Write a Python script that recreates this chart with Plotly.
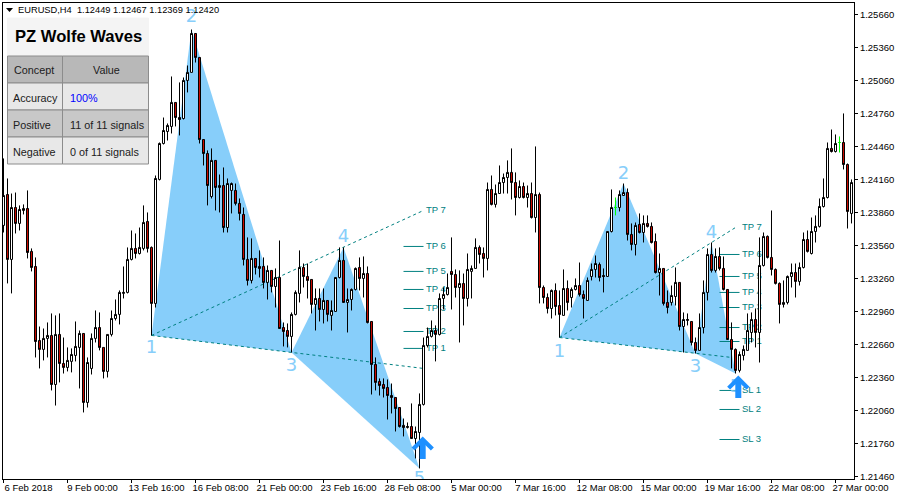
import numpy as np
import plotly.graph_objects as go

# EURUSD H4 candles, prices in points (1 point = 0.00001), ten candles per row
POINT = 0.00001
opens = [
123746,124027,123437,123909,123764,123882,123900,123510,123373,122700,
122619,122719,122746,122300,122755,122491,122455,122510,122564,122637,
122764,122137,122446,122719,122818,122637,122419,122755,122900,122937,
123128,123137,123437,123537,123491,123537,123782,123546,123037,124164,
124491,124600,124646,124864,124727,124718,125064,125137,125491,125273,
124527,124400,124009,124337,124091,124109,123727,124064,124064,123946,
123846,123437,123246,123446,123373,123373,123228,123337,123191,123273,
122818,122791,122737,122937,123128,123364,123282,123255,123028,123082,
122982,123064,122928,122964,123273,123428,123046,123073,123164,123364,
123264,123309,122873,122482,122328,122300,122273,122200,122182,122091,
121928,121909,121918,121809,121864,122119,122655,122737,122791,122755,
123082,123118,123328,123300,123182,123218,123082,123328,123355,123546,
123491,123446,124073,123937,124036,124136,124182,124228,124136,124000,
124100,124000,124036,123818,124027,123182,123091,122991,123155,123018,
122928,123173,123091,123164,123200,123118,123064,123282,123346,123391,
123291,123282,123691,123909,123909,124018,124045,123664,123573,123755,
123682,123764,123737,123600,123318,123355,123046,123046,123100,123228,
122827,122882,122873,122682,122610,122818,123137,123482,123337,123464,
123355,123164,122709,122619,122428,122564,122610,122773,122891,122773,
123382,123646,123455,123346,123219,123028,123046,123282,123318,123237,
123364,123618,123491,123691,123737,123918,124000,124446,124418,124500,
124500,124300,123855]
highs = [
124355,124173,124036,124045,123928,123937,124064,123537,123455,122827,
122809,122864,122946,122928,122946,122727,122637,122628,122873,122791,
122764,122546,122764,122973,122955,122637,122755,122973,123073,123155,
123373,123546,123700,123673,123727,123928,123864,123555,124200,124500,
124727,124673,125100,124864,125046,125091,125200,125527,125491,125273,
124527,124428,124446,124337,124209,124273,124173,124136,124127,123991,
123909,123637,123628,123446,123519,123455,123382,123337,123355,123609,
122864,122855,122955,123155,123519,123400,123400,123255,123173,123173,
123173,123064,123064,123273,123546,123546,123173,123173,123364,123455,
123464,123373,122873,122546,122355,122355,122346,122309,122182,122091,
121991,121955,122128,121918,122219,122727,122818,122882,122837,123128,
123182,123309,123637,123346,123337,123309,123491,123382,123628,123564,
123546,124136,124200,124118,124291,124218,124337,124446,124228,124155,
124136,124109,124136,124464,124045,123200,123128,123164,123219,123155,
123346,123246,123182,123264,123409,123155,123273,123400,123473,123409,
123355,123691,124073,124000,124064,124127,124082,123764,123773,123855,
123837,123837,123773,123673,123491,123355,123155,123200,123364,123228,
122955,122946,122873,122727,122946,123246,123537,123591,123537,123546,
123464,123164,122864,122628,122600,122655,122946,122955,122991,123637,
123682,123655,123882,123355,123228,123246,123291,123400,123400,123409,
123682,123700,123818,123837,123991,124173,124500,124618,124573,124555,
124764,124309,124164]
lows = [
123682,123219,123128,123673,123700,123846,123446,123328,122546,122446,
122519,122546,122246,122109,122319,122400,122419,122410,122510,122264,
122046,122091,122391,122682,122610,122355,122364,122737,122882,122846,
123082,123128,123428,123446,123482,123519,123500,122746,123000,124155,
124482,124518,124582,124646,124564,124709,124955,125137,125227,124491,
124291,123928,123991,123882,123864,123682,123682,123855,123928,123791,
123382,123200,123219,123300,123273,123173,123073,123137,123000,122809,
122646,122637,122591,122928,123046,123182,123082,122946,122791,122873,
122855,122873,122791,122964,123264,123046,122773,122973,123155,123155,
123091,122855,122209,122246,122200,122182,121982,122037,121873,121909,
121828,121900,121809,121628,121537,122109,122637,122727,122510,122746,
122982,123109,122982,123091,122682,122837,123009,123082,123355,123400,
123273,123337,123928,123909,124036,124036,124036,123982,123837,123991,
123991,123909,123809,123682,123037,123037,122946,122900,122928,122727,
122928,122973,123000,123155,123100,122900,123064,123246,123273,123237,
123137,123282,123682,123837,123873,124018,123609,123519,123473,123673,
123591,123727,123582,123309,123109,123018,122946,123018,123018,122791,
122591,122837,122655,122582,122610,122764,123064,123318,123318,123337,
123155,122709,122446,122400,122410,122519,122610,122682,122637,122500,
123373,123446,123291,123209,122855,123000,123028,123182,123091,123200,
123355,123500,123482,123591,123727,123909,123991,124409,124409,124409,
124255,123718,123764]
closes = [
124018,123437,123909,123764,123891,123900,123500,123364,122691,122619,
122719,122746,122300,122755,122491,122455,122519,122573,122646,122764,
122137,122500,122719,122818,122637,122419,122755,122900,122937,123137,
123137,123437,123537,123491,123546,123773,123537,123037,124173,124491,
124609,124655,124864,124727,124709,125064,125137,125491,125273,124527,
124400,124109,124337,124091,124109,123727,124127,124127,123946,123855,
123437,123246,123446,123364,123355,123228,123337,123191,123273,122809,
122782,122737,122937,123137,123364,123282,123246,123028,123082,122982,
123064,122937,122973,123273,123428,123046,123073,123164,123355,123264,
123309,122864,122482,122319,122291,122264,122200,122182,122082,121918,
121909,121918,121809,121873,122119,122655,122737,122791,122755,123082,
123118,123182,123300,123182,123218,123082,123346,123355,123546,123482,
123446,124073,123937,124036,124136,124182,124228,124136,124000,124100,
124000,124036,123818,124027,123182,123091,122991,123155,123009,122937,
123173,123046,123164,123200,123118,123082,123246,123346,123400,123273,
123282,123691,123909,123909,124027,124045,123664,123573,123746,123682,
123764,123737,123591,123318,123355,123037,123000,123109,123228,122827,
122891,122891,122682,122610,122818,123137,123482,123337,123464,123355,
123164,122709,122619,122428,122573,122619,122791,122891,122773,123382,
123646,123455,123346,123219,123028,123046,123282,123318,123237,123364,
123618,123510,123691,123737,123918,124000,124446,124418,124491,124500,
124300,123873,124136]
doji_at = [153,209]

tick_every = 16
x_tick_labels = ["6 Feb 2018","9 Feb 00:00","13 Feb 16:00","16 Feb 08:00","21 Feb 00:00","23 Feb 16:00","28 Feb 08:00","5 Mar 00:00","7 Mar 16:00","12 Mar 08:00","15 Mar 00:00","19 Mar 16:00","22 Mar 08:00","27 Mar 00:00"]
y_tick_values = [1.2146,1.2176,1.2206,1.2236,1.2266,1.2296,1.2326,1.2356,1.2386,1.2416,1.2446,1.2476,1.2506,1.2536,1.2566]

# Wolfe wave pivots: candle index and price in points
wave_a_idx = [37,47,72,85,104]
wave_a_px = [122746,125527,122591,123546,121537]
wave_b_idx = [139,155,173,177,183]
wave_b_px = [122727,124127,122582,123591,122400]
num_x = [37,47,72,85,104,139,155,173,177,183]
num_y = [122624,125640,122467,123640,121440,122595,124212,122458,123676,122276]
num_t = ["1","2","3","4","5","1","2","3","4","5"]

# Target lines
tp_a_names = ["TP 1","TP 2","TP 3","TP 4","TP 5","TP 6"]
tp_a_px = [122628,122782,122991,123164,123328,123555]
tp_a_span = [100,105]
tp_a_label_at = 105.6
tp_b_names = ["TP 1","TP 2","TP 3","TP 4","TP 5","TP 6","SL 1","SL 2","SL 3"]
tp_b_px = [122691,122818,123000,123137,123282,123482,122246,122073,121800]
tp_b_span = [179,184]
tp_b_label_at = 184.6
tp7_a = (105,123882)
tp7_b = (183,123727)
low_end_a = (105,122446)
low_end_b = (182,122546)
arrow_a = (104.8,121828)
arrow_b = (183.7,122382)

table_rows = [("Accuracy","100%"),("Positive","11 of 11 signals"),("Negative","0 of 11 signals")]
header_text = "EURUSD,H4  1.12449 1.12467 1.12369 1.12420"

BLUE = "#87CEFA"; TEAL = "#008080"; ARROW = "#1E90FF"; RED = "#C80A00"
TXT = "Liberation Sans"

o = np.array(opens)*POINT; h = np.array(highs)*POINT; l = np.array(lows)*POINT; c = np.array(closes)*POINT
idx = np.arange(len(opens))
main = np.array([i not in doji_at for i in idx])

fig = go.Figure()

def add_triangles(ix, px):
    p = np.array(px)*POINT
    for tri in ([0,1,2],[2,3,4]):
        fig.add_trace(go.Scatter(x=[ix[k] for k in tri]+[ix[tri[0]]], y=[p[k] for k in tri]+[p[tri[0]]],
                                 mode="lines", fill="toself", fillcolor=BLUE, line=dict(width=0, color=BLUE),
                                 hoverinfo="skip", showlegend=False))
add_triangles(wave_a_idx, wave_a_px)
add_triangles(wave_b_idx, wave_b_px)

def seg(x0,y0,x1,y1,dash):
    fig.add_trace(go.Scatter(x=[x0,x1],y=[y0*POINT,y1*POINT],mode="lines",
                             line=dict(color=TEAL,width=1,dash=dash),hoverinfo="skip",showlegend=False))
for ix,px,end1,end2 in ((wave_a_idx,wave_a_px,low_end_a,tp7_a),(wave_b_idx,wave_b_px,low_end_b,tp7_b)):
    seg(ix[0],px[0],end1[0],end1[1],"3px,3px")
    seg(ix[0],px[0],end2[0],end2[1],"3px,3px")
for names,pxs,span,t7,lab_x in ((tp_a_names,tp_a_px,tp_a_span,tp7_a,tp_a_label_at),(tp_b_names,tp_b_px,tp_b_span,tp7_b,tp_b_label_at)):
    for v in pxs:
        seg(span[0],v,span[1],v,"solid")
    fig.add_trace(go.Scatter(x=[lab_x]*(len(pxs)+1), y=[v*POINT for v in pxs]+[t7[1]*POINT],
                             mode="text", text=names+["TP 7"], textposition="middle right",
                             textfont=dict(family=TXT,size=9.5,color=TEAL),hoverinfo="skip",showlegend=False))

# Wave numbers, clipped by the plot area
num_font = dict(family="DejaVu Sans",size=18,color=BLUE)
fig.add_trace(go.Scatter(x=num_x,y=[v*POINT for v in num_y],mode="text",text=num_t,textposition="middle center",
                         textfont=num_font,hoverinfo="skip",showlegend=False))

fig.add_trace(go.Candlestick(x=idx[main],open=o[main],high=h[main],low=l[main],close=c[main],xaxis="x2",yaxis="y2",
    increasing=dict(fillcolor="#FFFFFF",line=dict(color="#000000",width=1)),
    decreasing=dict(fillcolor=RED,line=dict(color="#000000",width=1)),
    whiskerwidth=0,showlegend=False,hoverinfo="skip"))
fig.add_trace(go.Candlestick(x=doji_at,open=o[doji_at],high=h[doji_at],low=l[doji_at],close=c[doji_at],xaxis="x2",yaxis="y2",
    increasing=dict(fillcolor="#00FF00",line=dict(color="#00FF00",width=1)),
    decreasing=dict(fillcolor="#00FF00",line=dict(color="#00FF00",width=1)),
    whiskerwidth=0,showlegend=False,hoverinfo="skip"))

L,R,T,B = 3,854,3,479
W,H = 900,500
fx = lambda p:(p-L)/(R-L)
fy = lambda p:1-(p-T)/(B-T)

def rect(x0,y0,x1,y1,fill,line="#8C8C8C"):
    return dict(type="rect",xref="paper",yref="paper",x0=fx(x0),x1=fx(x1),y0=fy(y0),y1=fy(y1),
                fillcolor=fill,line=dict(color=line,width=1),layer="above")
shapes = [rect(7.5,18,148.5,56,"#F4F4F4","#F4F4F4")]
for y0,y1,fill in ((56,83,"#B8B8B8"),(83,110,"#E8E8E8"),(110,137,"#C8C8C8"),(137,164,"#E8E8E8")):
    shapes.append(rect(7.5,y0,62.5,y1,fill))
    shapes.append(rect(62.5,y0,148.5,y1,fill))
shapes.append(dict(type="path",xref="paper",yref="paper",layer="above",fillcolor="#000000",line=dict(width=0),
    path=f"M{fx(6)},{fy(8)} L{fx(13)},{fy(8)} L{fx(9.5)},{fy(12)} Z"))

def note(px,py,text,size=11,color="#000000",anchor="left",bold=False,fam=TXT):
    return dict(xref="paper",yref="paper",x=fx(px),y=fy(py),text=f"<b>{text}</b>" if bold else text,showarrow=False,
                xanchor=anchor,yanchor="middle",font=dict(family=fam,size=size,color=color),borderpad=0)
anns = [note(17,10,header_text,9.3),note(78,37,"PZ Wolfe Waves",16.6,anchor="center",bold=True),
        note(33.5,70,"Concept",10.8,"#202020","center"),note(106,70,"Value",10.8,"#202020","center")]
for (a,b),y in zip(table_rows,(98,125,152)):
    anns.append(note(11.5,y,a,10.8,"#202020"))
    anns.append(note(69,y,b,10.8,"#0000FF" if b=="100%" else "#202020"))
for ax_,ay_ in (arrow_a,arrow_b):
    anns.append(dict(x=ax_,y=ay_*POINT,xref="x",yref="y",ax=0,ay=24,axref="pixel",ayref="pixel",text="",showarrow=True,
                     arrowcolor=ARROW,arrowwidth=6,arrowhead=4,arrowsize=0.62,standoff=0))

rng_x = [-0.125,212.625]
rng_y = [1.21441,1.25768]
fig.update_layout(
    width=W,height=H,margin=dict(l=L,r=W-R,t=T,b=H-B,autoexpand=False),
    paper_bgcolor="#FFFFFF",plot_bgcolor="#FFFFFF",showlegend=False,boxgap=0.5,boxgroupgap=0,
    shapes=shapes,annotations=anns,
    xaxis=dict(range=rng_x,showgrid=False,zeroline=False,showline=True,mirror=True,linecolor="#000000",linewidth=1,
               tickmode="array",tickvals=list(range(0,213,tick_every)),ticktext=x_tick_labels,ticks="outside",ticklen=3,tickangle=0,
               tickcolor="#000000",tickfont=dict(family=TXT,size=9.5,color="#000000"),ticklabelshift=25,ticklabelstandoff=-3,
               ticklabeloverflow="allow",rangeslider=dict(visible=False)),
    yaxis=dict(range=rng_y,side="right",showgrid=False,zeroline=False,showline=True,mirror=True,linecolor="#000000",linewidth=1,
               tickmode="array",tickvals=y_tick_values,ticktext=[f"{v:.5f}" for v in y_tick_values],ticks="outside",ticklen=3,
               tickcolor="#000000",tickfont=dict(family=TXT,size=9.5,color="#000000")),
    xaxis2=dict(range=rng_x,overlaying="x",visible=False,rangeslider=dict(visible=False)),
    yaxis2=dict(range=rng_y,overlaying="y",visible=False),
)
fig.write_html("out.html",config=dict(displayModeBar=False),
               post_script="document.documentElement.style.margin='0';document.body.style.margin='0';document.body.style.overflow='hidden';")
